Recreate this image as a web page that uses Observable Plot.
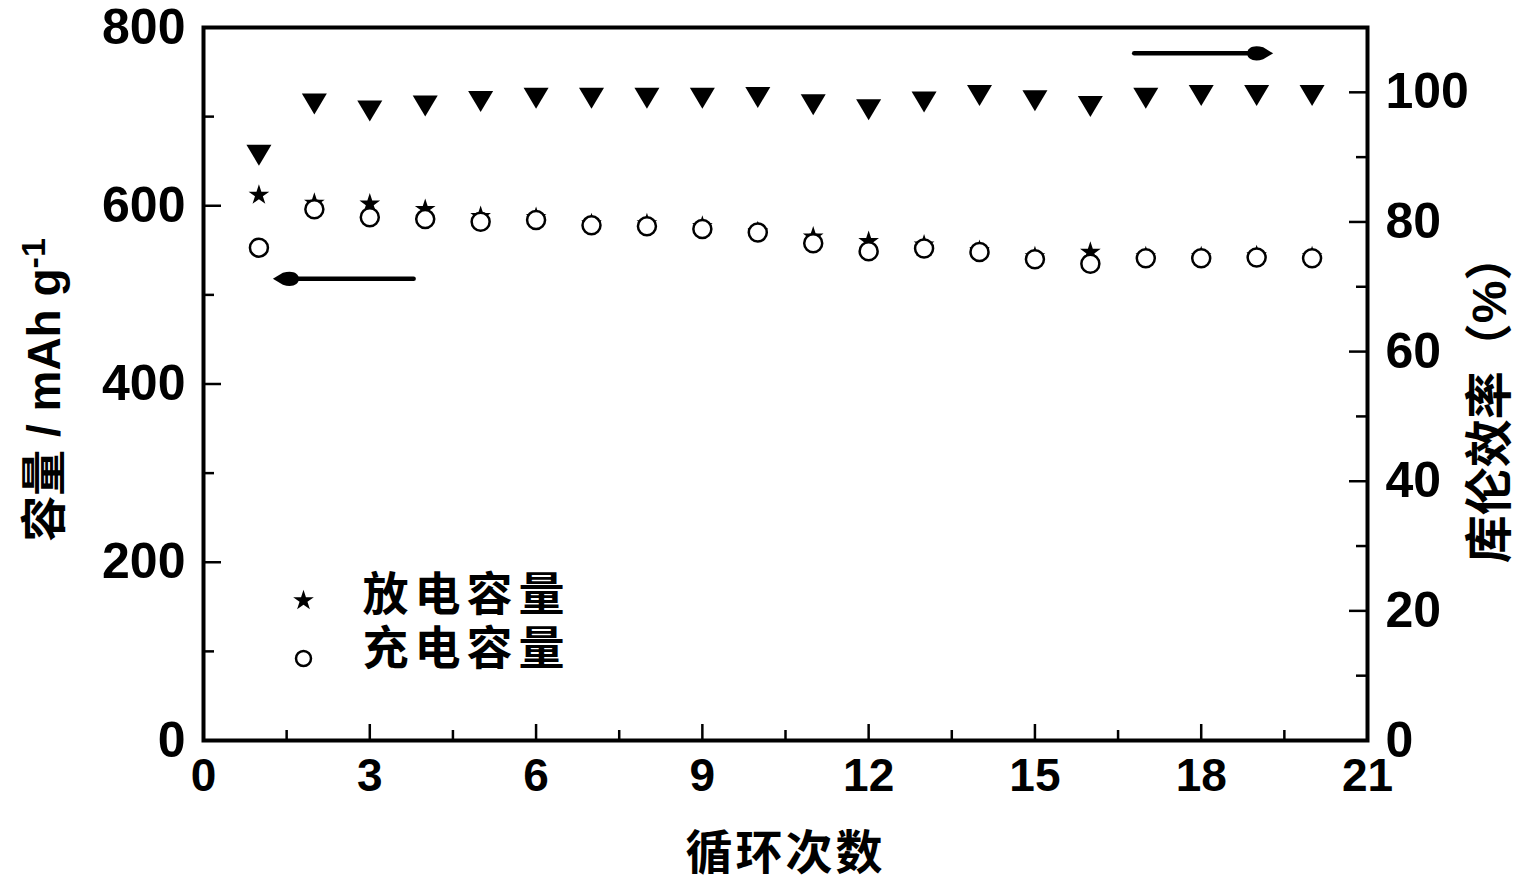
<!DOCTYPE html>
<html><head><meta charset="utf-8">
<script src="https://cdn.jsdelivr.net/npm/d3@7"></script>
<script src="https://cdn.jsdelivr.net/npm/@observablehq/plot@0.6"></script>
<style>body{margin:0;background:#fff}</style>
</head><body><div id="chart"></div>
<script>
// ---- data ----
const cycles     = [1,2,3,4,5,6,7,8,9,10,11,12,13,14,15,16,17,18,19,20];
const discharge  = [612,603,602,596,588,587,580,580,577,571,565,560,556,550,543,548,543,543,544,543];
const charge     = [553,596,587,585,582,584,578,577,574,570,558,549,552,548,540,535,541,541,542,541];
const efficiency = [90.3,98.2,97.1,97.9,98.6,99.1,99.1,99.1,99.1,99.2,98.1,97.3,98.5,99.5,98.7,97.8,99.1,99.5,99.5,99.5];
const xTicks   = [0,3,6,9,12,15,18,21];
const xMinor   = [1.5,4.5,7.5,10.5,13.5,16.5,19.5];
const yTicks   = [0,200,400,600,800];
const yMinor   = [100,300,500,700];
const effTicks = [0,20,40,60,80,100];
const effMinor = [10,30,50,70,90];
const capMax = 800, effMax = 110;
const arrows = [
  {x1: 3.8, x2: 1.45, y: 518},     // points to the left axis
  {x1: 16.8, x2: 19.1, y: 771}     // points to the right axis
];
const legendItems = [
  {symbol: "star", label: "放电容量"},
  {symbol: "circle", label: "充电容量"}
];
const xTitle = "循环次数";
const yTitleMain = "容量 / mAh g";
const yTitleSup = "-1";
const y2Title = "库伦效率（%）";

// ---- layout ----
const W = 1520, H = 880, mT = 27, mB = 140, mL = 203, mR = 153;
const pw = W - mL - mR, ph = H - mT - mB;
const toCap = v => v * capMax / effMax;
const numFont = "'Liberation Sans', Arial, sans-serif";
const cjkFont = "'Liberation Sans', 'Noto Sans CJK SC', sans-serif";

const rows = cycles.map((c, i) => ({c, d: discharge[i], q: charge[i], e: efficiency[i]}));

const triangleDown = {
  draw(context, size) {
    const r = Math.sqrt(size / Math.PI), h = r * 0.84;
    context.moveTo(-r, -h); context.lineTo(r, -h); context.lineTo(0, h); context.closePath();
  }
};
const arrowHead = {
  draw(context) {
    context.moveTo(11, 0);
    context.lineTo(1, -6);
    context.bezierCurveTo(-8, -9, -15, -6, -15, 0);
    context.bezierCurveTo(-15, 6, -8, 9, 1, 6);
    context.closePath();
  }
};

const txt = {fontWeight: "bold", fill: "#000"};

const chart = Plot.plot({
  width: W, height: H,
  marginTop: mT, marginBottom: mB, marginLeft: mL, marginRight: mR,
  x: {domain: [0, 21], axis: null},
  y: {domain: [0, capMax], axis: null},
  style: {background: "#fff"},
  marks: [
    // inward ticks
    Plot.ruleX(xTicks, {x: d => d, insetTop: ph - 16, strokeWidth: 2.5}),
    Plot.ruleX(xMinor, {x: d => d, insetTop: ph - 10, strokeWidth: 2.5}),
    Plot.ruleY(yTicks, {y: d => d, insetRight: pw - 18, strokeWidth: 2.5}),
    Plot.ruleY(yMinor, {y: d => d, insetRight: pw - 11, strokeWidth: 2.5}),
    Plot.ruleY(effTicks, {y: d => toCap(d), insetLeft: pw - 18, strokeWidth: 2.5}),
    Plot.ruleY(effMinor, {y: d => toCap(d), insetLeft: pw - 11, strokeWidth: 2.5}),
    Plot.frame({stroke: "#000", strokeWidth: 4}),
    // tick labels
    Plot.text(xTicks, {x: d => d, frameAnchor: "bottom", dy: 50, text: d => String(d),
      fontSize: 46, fontFamily: numFont, ...txt}),
    Plot.text(yTicks, {y: d => d, frameAnchor: "left", dx: -18, textAnchor: "end", text: d => String(d),
      fontSize: 50, fontFamily: numFont, ...txt}),
    Plot.text(effTicks, {y: d => toCap(d), frameAnchor: "right", dx: 18, textAnchor: "start", text: d => String(d),
      fontSize: 50, fontFamily: numFont, ...txt}),
    // titles
    Plot.text([xTitle], {frameAnchor: "bottom", dy: 128, textAnchor: "middle", text: d => d,
      fontSize: 47, fontFamily: cjkFont, ...txt}),
    Plot.text([yTitleMain], {frameAnchor: "left", dx: -158, dy: 6, rotate: -90, textAnchor: "middle", text: d => d,
      fontSize: 46, fontFamily: cjkFont, ...txt}),
    Plot.text([y2Title], {frameAnchor: "right", dx: 123, dy: 14, rotate: -90, textAnchor: "middle", text: d => d,
      fontSize: 48, fontFamily: cjkFont, ...txt}),
    // data
    Plot.dot(rows, {x: "c", y: "d", symbol: "star", r: 6.5, fill: "#000", stroke: "none"}),
    Plot.dot(rows, {x: "c", y: "q", symbol: "circle", r: 9, fill: "#fff", stroke: "#000", strokeWidth: 2.5}),
    Plot.dot(rows, {x: "c", y: d => toCap(d.e), symbol: triangleDown, r: 12.5, fill: "#000", stroke: "none"}),
    // arrows
    Plot.ruleY(arrows, {y: "y", x1: "x1", x2: "x2", stroke: "#000", strokeWidth: 4.5, strokeLinecap: "round"}),
    Plot.dot(arrows, {x: "x2", y: "y", symbol: arrowHead, rotate: d => (d.x2 < d.x1 ? 180 : 0), fill: "#000", stroke: "none"}),
    // legend
    Plot.dot([legendItems[0]], {frameAnchor: "bottom-left", dx: 100, dy: -140, symbol: "star", r: 6.5, fill: "#000"}),
    Plot.dot([legendItems[1]], {frameAnchor: "bottom-left", dx: 100, dy: -82, symbol: "circle", r: 7.5, fill: "#fff", stroke: "#000", strokeWidth: 2.5}),
    Plot.text([legendItems[0]], {frameAnchor: "bottom-left", dx: 159, dy: -131, text: "label", textAnchor: "start",
      fontSize: 46, fontFamily: cjkFont, ...txt}),
    Plot.text([legendItems[1]], {frameAnchor: "bottom-left", dx: 159, dy: -77, text: "label", textAnchor: "start",
      fontSize: 46, fontFamily: cjkFont, ...txt})
  ]
});

// finishing touches: superscript and letter spacing on the CJK texts
d3.select(chart).selectAll("text").each(function() {
  const t = this.textContent;
  if (t === yTitleMain) {
    d3.select(this).append("tspan").attr("dy", -15).attr("font-size", 34).text(yTitleSup);
  } else if (legendItems.some(l => l.label === t)) {
    d3.select(this).style("letter-spacing", "6px");
  } else if (t === xTitle) {
    d3.select(this).style("letter-spacing", "3px");
  }
});
document.getElementById("chart").appendChild(chart);
</script>
</body></html>
